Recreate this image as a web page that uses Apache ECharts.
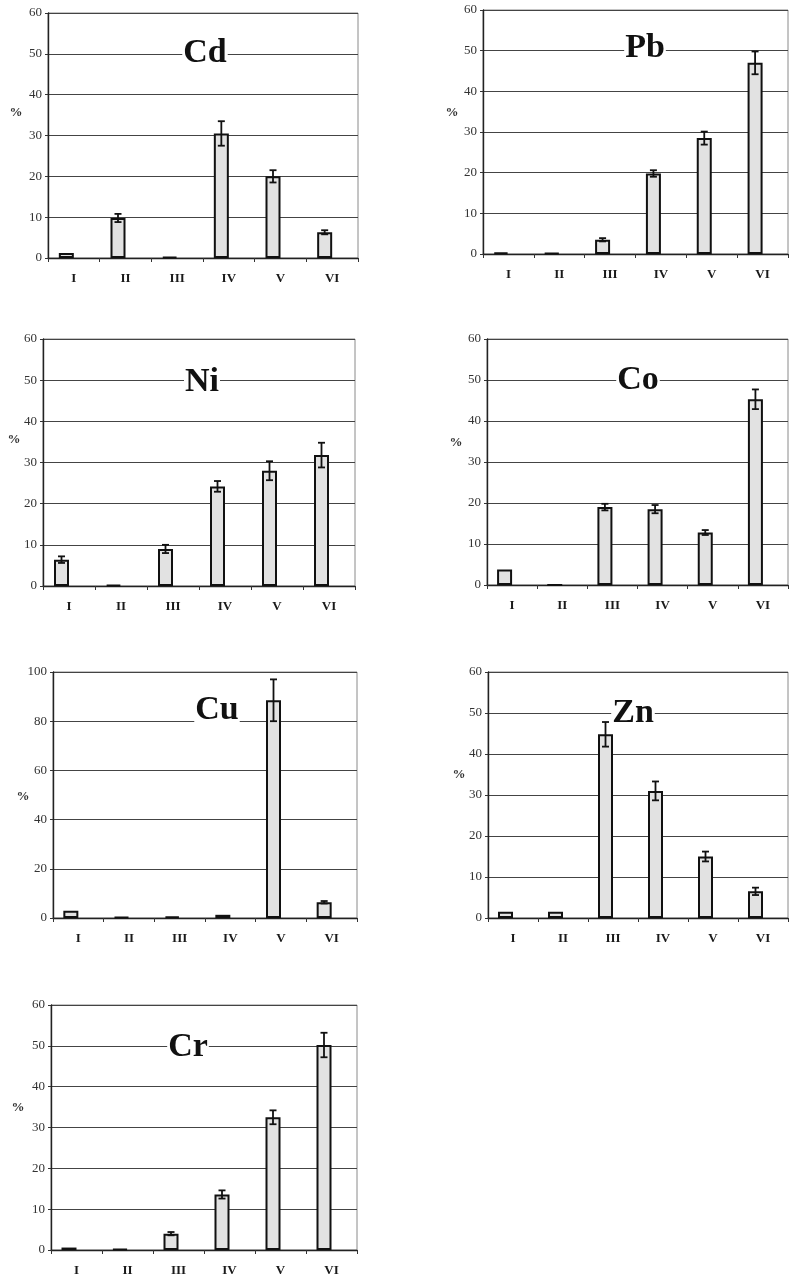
<!DOCTYPE html>
<html><head><meta charset="utf-8">
<script src="https://cdn.jsdelivr.net/npm/echarts@6/dist/echarts.min.js"></script>
<style>html,body{margin:0;padding:0;background:#fff}#c{width:790px;height:1280px}</style>
</head><body><div id="c"></div>
<script>
// ---- data ----
const categories = ['I', 'II', 'III', 'IV', 'V', 'VI'];
const elements = ['Cd', 'Pb', 'Ni', 'Co', 'Cu', 'Zn', 'Cr'];
const cdValues = [1.2, 9.8, 0.3, 30.5, 20.0, 6.3];
const cdErrors = [0, 1.0, 0, 3.0, 1.5, 0.5];
const pbValues = [0.4, 0.2, 3.5, 19.8, 28.5, 47.0];
const pbErrors = [0, 0, 0.4, 0.8, 1.6, 2.8];
const niValues = [6.4, 0.3, 9.0, 24.2, 28.0, 31.8];
const niErrors = [0.8, 0, 1.0, 1.3, 2.3, 3.0];
const coValues = [3.8, 0, 19.0, 18.5, 12.8, 45.3];
const coErrors = [0, 0, 0.8, 1.0, 0.6, 2.4];
const cuValues = [2.9, 0.4, 0.6, 1.3, 88.5, 6.4];
const cuErrors = [0, 0, 0, 0, 8.5, 0.5];
const znValues = [1.5, 1.5, 44.8, 31.0, 15.0, 6.5];
const znErrors = [0, 0, 3.0, 2.3, 1.2, 0.9];
const crValues = [0.6, 0.2, 4.0, 13.6, 32.5, 50.2];
const crErrors = [0, 0, 0.4, 1.0, 1.7, 3.0];
const yMax = [60, 60, 60, 60, 100, 60, 60];
const yStep = [10, 10, 10, 10, 20, 10, 10];
const unitLabel = '%';

const valueSets = [cdValues, pbValues, niValues, coValues, cuValues, znValues, crValues];
const errorSets = [cdErrors, pbErrors, niErrors, coErrors, cuErrors, znErrors, crErrors];

// ---- layout (positions only) ----
const panels = [
  {left: 48, top: 13, width: 310, height: 245, tx: 205, ty: 53, px: 16, py: 113},
  {left: 483, top: 10, width: 305, height: 244, tx: 645, ty: 48, px: 452, py: 113},
  {left: 43, top: 339, width: 312, height: 247, tx: 202, ty: 382, px: 14, py: 440},
  {left: 487, top: 339, width: 301, height: 246, tx: 638, ty: 380, px: 456, py: 443},
  {left: 53, top: 672, width: 304, height: 246, tx: 217, ty: 710, px: 23, py: 797},
  {left: 488, top: 672, width: 300, height: 246, tx: 633, ty: 713, px: 459, py: 775},
  {left: 51, top: 1005, width: 306, height: 245, tx: 188, ty: 1047, px: 18, py: 1108}
];
const BW = 15;
const serif = '"Liberation Serif", "DejaVu Serif", serif';

const grid = [], xAxis = [], yAxis = [], series = [], graphic = [];
panels.forEach((p, k) => {
  grid.push({left: p.left, top: p.top, width: p.width, height: p.height,
    show: true, borderColor: '#8a8a8a', borderWidth: 1, backgroundColor: 'transparent'});
  xAxis.push({type: 'category', gridIndex: k, data: categories,
    axisLine: {lineStyle: {color: '#222', width: 1.4}},
    axisTick: {show: true, length: 4, lineStyle: {color: '#333'}},
    axisLabel: {fontFamily: serif, fontWeight: 'bold', fontSize: 13, color: '#1a1a1a', margin: 14},
    splitLine: {show: false}});
  yAxis.push({type: 'value', gridIndex: k, min: 0, max: yMax[k], interval: yStep[k],
    axisLine: {show: true, lineStyle: {color: '#222', width: 1.4}},
    axisTick: {show: true, length: 3, lineStyle: {color: '#333'}},
    axisLabel: {fontFamily: serif, fontSize: 13, color: '#333', margin: 6},
    splitLine: {show: true, lineStyle: {color: '#444', width: 1}}});
  series.push({type: 'bar', xAxisIndex: k, yAxisIndex: k, data: valueSets[k],
    barWidth: BW, barGap: '0%',
    itemStyle: {color: '#e2e2e2', borderColor: '#111', borderWidth: 2}, z: 3});
  series.push({type: 'bar', xAxisIndex: k, yAxisIndex: k, data: categories.map(() => null),
    barWidth: BW, barGap: '0%', silent: true});
  series.push({type: 'custom', xAxisIndex: k, yAxisIndex: k, z: 5,
    data: valueSets[k].map((v, i) => [i, v, errorSets[k][i]]),
    encode: {x: 0, y: 1},
    renderItem: function (params, api) {
      const i = api.value(0), v = api.value(1), e = api.value(2);
      if (!e) return null;
      const t = api.coord([i, v + e]), b = api.coord([i, v - e]);
      const x = t[0] - BW / 2, h = 3.5;
      const st = {stroke: '#111', lineWidth: 1.8};
      return {type: 'group', children: [
        {type: 'line', shape: {x1: x, y1: t[1], x2: x, y2: b[1]}, style: st},
        {type: 'line', shape: {x1: x - h, y1: t[1], x2: x + h, y2: t[1]}, style: st},
        {type: 'line', shape: {x1: x - h, y1: b[1], x2: x + h, y2: b[1]}, style: st}
      ]};
    }});
  graphic.push({type: 'text', x: p.tx, y: p.ty, z: 10,
    style: {text: elements[k], font: 'bold 34px ' + serif, fill: '#111',
      align: 'center', verticalAlign: 'middle', backgroundColor: '#fff', padding: [0, 1]}});
  graphic.push({type: 'text', x: p.px, y: p.py, z: 10,
    style: {text: unitLabel, font: 'bold 13px ' + serif, fill: '#333',
      align: 'center', verticalAlign: 'middle'}});
});

const chart = echarts.init(document.getElementById('c'), null, {renderer: 'canvas'});
chart.setOption({animation: false, backgroundColor: '#fff', grid, xAxis, yAxis, series, graphic});
</script></body></html>
